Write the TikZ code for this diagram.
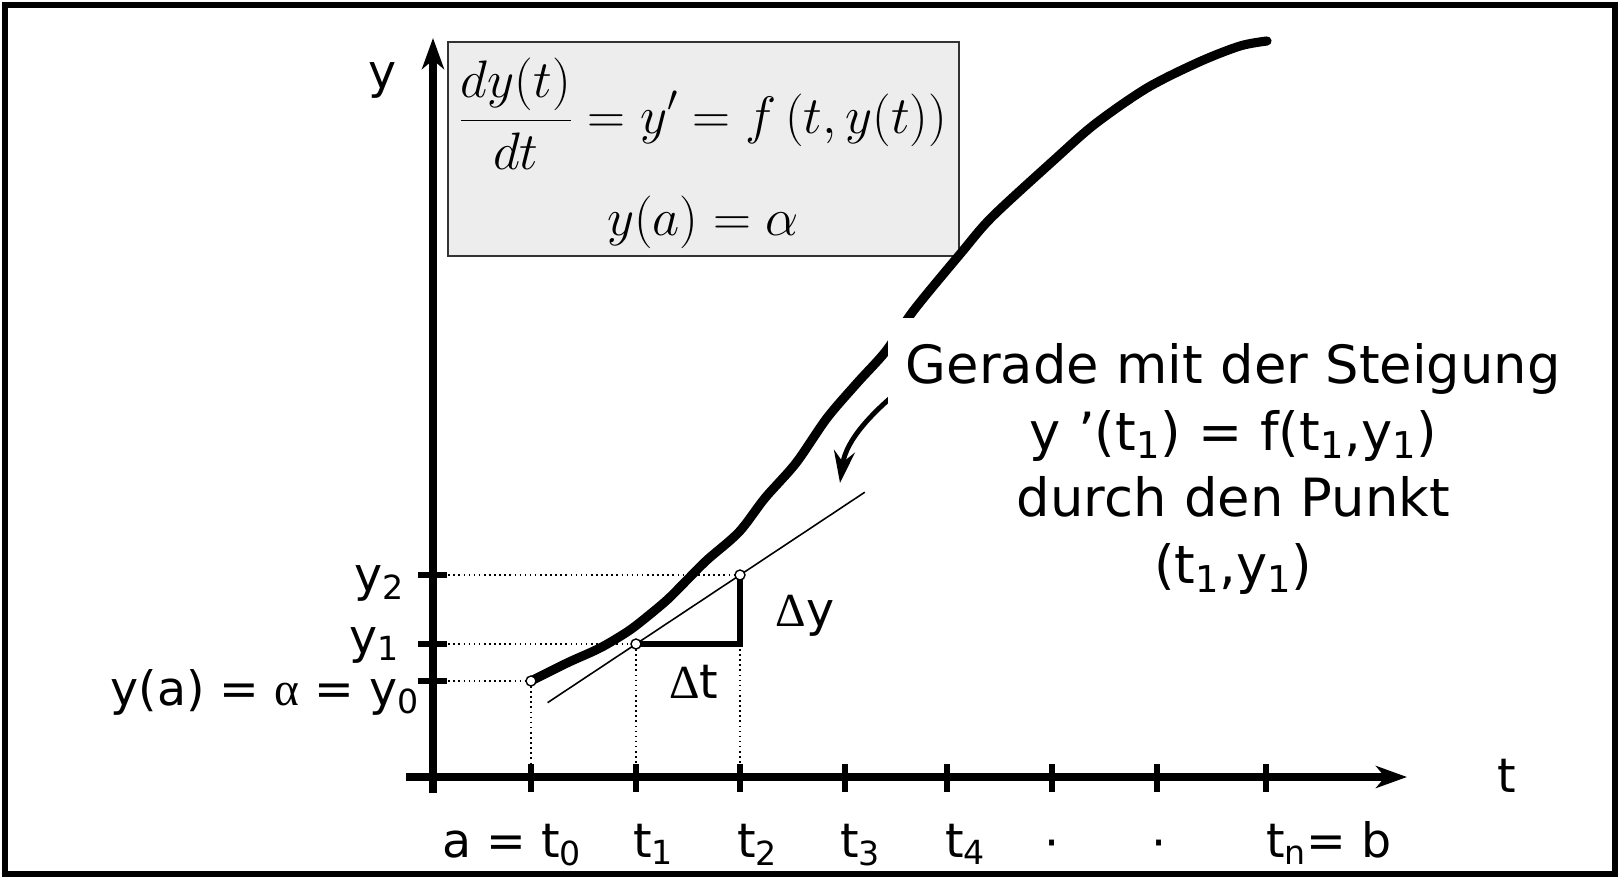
\RequirePackage{fix-cm}
\documentclass[tikz,border=0pt]{standalone}
\usepackage[no-math]{fontspec}
\setmainfont{DejaVu Sans}
\newfontfamily\symfont{Liberation Serif}
\usetikzlibrary{arrows.meta,calc}
\begin{document}
\begin{tikzpicture}[x=0.02cm,y=-0.02cm,
  axis/.style={line width=4pt, -{Stealth[length=0.62cm,width=0.44cm,inset=0.18cm]}},
  tickmark/.style={line width=3.4pt},
  guide/.style={line width=0.9pt, dotted},
  curve/.style={line width=5.2pt, line cap=round, line join=round},
  pt/.style={circle, draw, fill=white, line width=0.8pt, inner sep=0pt, minimum size=0.2cm},
  lbl/.style={font=\fontsize{27}{32}\selectfont, inner sep=0pt},
  mathlbl/.style={font=\fontsize{30}{36}\selectfont, inner sep=0pt},
]
\useasboundingbox (0,0) rectangle (1620,879);
\draw[line width=3.4pt] (5,5) rectangle (1615,874);

% equation box
\node[draw=black!80, fill=black!7, line width=0.8pt, minimum width=10.22cm, minimum height=4.28cm, inner sep=0pt] (eqbox) at (703.5,149) {};
\node[mathlbl] (eq1) at (703,114) {$\displaystyle \frac{dy(t)}{dt} = y' = f\,(t, y(t))$};
\node[mathlbl] (eq2) at (703,222) {$y(a) = \alpha$};

% key points
\coordinate (O) at (433,777);
\coordinate (P0) at (531,681);
\coordinate (P1) at (636,644);
\coordinate (P2) at (740,575);
\coordinate (C) at (740,644);

% dotted guides
\draw[guide] (O |- P0) -- (P0);
\draw[guide] (O |- P1) -- (P1);
\draw[guide] (O |- P2) -- (P2);
\draw[guide] (P0) -- (P0 |- O);
\draw[guide] (P1) -- (P1 |- O);
\draw[guide] (C) -- (C |- O);

% axes
\coordinate (yb) at (433,793);
\coordinate (yt) at (433,38);
\coordinate (xl) at (406,777);
\coordinate (xr) at (1407,777);
\draw[axis] (yb) -- (yt);
\draw[axis] (xl) -- (xr);

% ticks
\foreach \x in {433,531,636,740,845,947,1052,1157,1266}
  \draw[tickmark] (\x,764) -- (\x,792);
\foreach \y in {575,644,681}
  \draw[tickmark] (418,\y) -- (447,\y);

% solution curve
\draw[curve] plot[smooth, tension=0.5] coordinates {
  (531,681) (567,663) (600,648) (627,632) (643,620) (667,600) (687,580)
  (707,560) (739,532) (765,498) (796,463) (827,418) (858,382) (886,351)
  (914,310) (961,253) (992,217) (1054,160) (1095,124) (1147,88)
  (1199,62) (1240,46) (1267,41)};

% curved pointer arrow
\coordinate (arrS) at (906,385);
\coordinate (arrE) at (840,483);
\draw[line width=2.8pt, -{Stealth[length=0.64cm,width=0.42cm,inset=0.22cm]}]
  (arrS) .. controls (872,412) and (846,440) .. (arrE);

% tangent line
\draw[line width=0.9pt] ($(P1)!-0.85!(P2)$) -- ($(P1)!2.2!(P2)$);

% step triangle
\draw[line width=3pt, line join=miter] (P1) -- (C) -- (P2);

% points
\node[pt] (p0c) at (P0) {};
\node[pt] (p1c) at (P1) {};
\node[pt] (p2c) at (P2) {};

% labels
\node[lbl] (ylab) at (383,80) {y};
\node[lbl] (tlab) at (1507,776) {t};
\node[lbl, anchor=east] (y2lab) at (405,583) {y\textsubscript{2}};
\node[lbl, anchor=east] (y1lab) at (400,645) {y\textsubscript{1}};
\node[lbl, anchor=east] (y0lab) at (420,692) {y(a) = {\symfont α} = y\textsubscript{0}};
\node[lbl] (dylab) at (805,616) {{\symfont Δ}y};
\node[lbl] (dtlab) at (694,682) {{\symfont Δ}t};

\node[lbl, anchor=base east] (l0) at (582,857) {a = t\textsubscript{0}};
\node[lbl, anchor=base west] (l1) at (633,857) {t\textsubscript{1}};
\node[lbl, anchor=base west] (l2) at (737,857) {t\textsubscript{2}};
\node[lbl, anchor=base west] (l3) at (840,857) {t\textsubscript{3}};
\node[lbl, anchor=base west] (l4) at (945,857) {t\textsubscript{4}};
\node[lbl] (d1) at (1052,850) {·};
\node[lbl] (d2) at (1159,850) {·};
\node[lbl, anchor=base west] (ln) at (1266,857) {t\textsubscript{n}= b};

% explanation text (white background interrupts the curve)
\node[anchor=north west, fill=white, inner xsep=0pt, inner ysep=0.5cm, text width=13.8cm,
      align=center, font=\fontsize{30}{38}\selectfont] (note) at (888,318)
  {Gerade mit der Steigung\\
   y '(t\textsubscript{1}) = f(t\textsubscript{1},y\textsubscript{1})\\
   durch den Punkt\\
   (t\textsubscript{1},y\textsubscript{1})};
\end{tikzpicture}
\end{document}
